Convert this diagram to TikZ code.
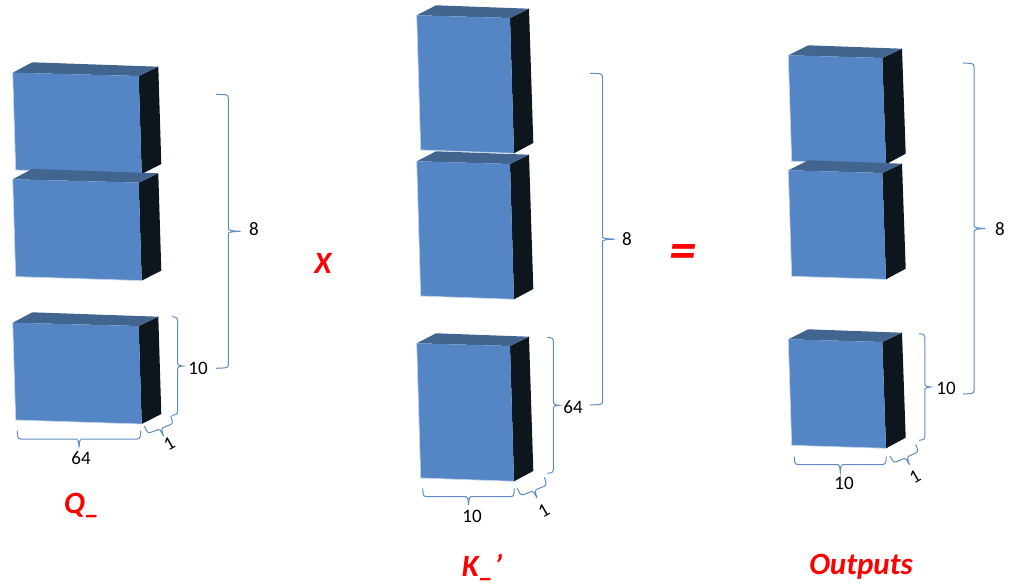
\documentclass[tikz,border=0pt]{standalone}
\usepackage{fontspec}
\setmainfont{Carlito}
\usetikzlibrary{decorations}
\definecolor{frontblue}{HTML}{5485C5}
\definecolor{topblue}{HTML}{41658F}
\definecolor{sideblack}{HTML}{0D151D}
\definecolor{braceblue}{HTML}{5F8CC4}
\definecolor{edgelight}{HTML}{C3D4EA}
% brace with tight corners and a short tip
\pgfdeclaredecoration{tightbrace}{start}{
    \state{start}[width=+\pgfdecoratedremainingdistance, next state=final]{
        \pgfmathsetlengthmacro{\halfdepth}{0.5*\pgfdecorationsegmentamplitude}
        \pgfmathsetlengthmacro{\fulldepth}{\pgfdecorationsegmentamplitude}
        \pgfmathsetlengthmacro{\midway}{0.5*\pgfdecoratedremainingdistance}
        \pgfmathsetlengthmacro{\fullway}{\pgfdecoratedremainingdistance}
        \pgfpathmoveto{\pgfpointorigin}
        \pgfpathlineto{\pgfpoint{0.4pt}{\halfdepth-3pt}}
        \pgfpathcurveto{\pgfpoint{0.8pt}{\halfdepth-1pt}}{\pgfpoint{1.5pt}{\halfdepth}}{\pgfpoint{3.5pt}{\halfdepth}}
        \pgfpathlineto{\pgfpoint{\midway-2.5pt}{\halfdepth}}
        \pgfpathcurveto{\pgfpoint{\midway-1pt}{\halfdepth}}{\pgfpoint{\midway-0.5pt}{\halfdepth+1.5pt}}{\pgfpoint{\midway}{\fulldepth}}
        \pgfpathcurveto{\pgfpoint{\midway+0.5pt}{\halfdepth+1.5pt}}{\pgfpoint{\midway+1pt}{\halfdepth}}{\pgfpoint{\midway+2.5pt}{\halfdepth}}
        \pgfpathlineto{\pgfpoint{\fullway-3.5pt}{\halfdepth}}
        \pgfpathcurveto{\pgfpoint{\fullway-1.5pt}{\halfdepth}}{\pgfpoint{\fullway-0.8pt}{\halfdepth-1pt}}{\pgfpoint{\fullway-0.4pt}{\halfdepth-3pt}}
        \pgfpathlineto{\pgfpoint{\fullway}{0pt}}
    }
    \state{final}{}
}
\tikzset{
    frontface/.style={fill=frontblue},
    topface/.style={fill=topblue},
    sideface/.style={fill=sideblack},
    sheen/.style={draw=edgelight, line width=0.7pt},
    brc/.style={draw=braceblue, line width=1pt, decorate, decoration={tightbrace, amplitude=#1}},
    sizelabel/.style={text=black, font=\fontsize{19}{21}\selectfont, inner sep=0pt},
    blocklabel/.style={text=red, font=\fontsize{31}{33}\selectfont\bfseries\itshape, inner sep=0pt},
    pics/wideblock/.style={code={
        \fill[sideface] (126,3.3) -- (145.6,-6) -- (148.6,91.3) -- (129,101.3) -- cycle;
        \fill[topface] (0,0) -- (19.6,-10.4) -- (145.6,-6) -- (126,3.3) -- cycle;
        \fill[frontface] (0,0) -- (126,3.3) -- (129,101.3) -- (3,97.3) -- cycle;
        \draw[sheen] (0,0) -- (3,97.3) -- (129,101.3);
    }},
    pics/tallblock/.style={code={
        \fill[sideface] (93.3,2.7) -- (112.3,-6.6) -- (116.6,127.7) -- (97.3,138) -- cycle;
        \fill[topface] (0,0) -- (19.3,-10) -- (112.3,-6.6) -- (93.3,2.7) -- cycle;
        \fill[frontface] (0,0) -- (93.3,2.7) -- (97.3,138) -- (4,134.7) -- cycle;
        \draw[sheen] (0,0) -- (4,134.7) -- (97.3,138);
    }},
    pics/squareblock/.style={code={
        \fill[sideface] (94,2.7) -- (113.7,-6.6) -- (117.4,98.4) -- (97.7,109) -- cycle;
        \fill[topface] (0,0) -- (20,-10) -- (113.7,-6.6) -- (94,2.7) -- cycle;
        \fill[frontface] (0,0) -- (94,2.7) -- (97.7,109) -- (3.4,106) -- cycle;
        \draw[sheen] (0,0) -- (3.4,106) -- (97.7,109);
    }},
}
\begin{document}
\begin{tikzpicture}[x=1pt, y=-1pt]
    \useasboundingbox (0,0) rectangle (1024,588);

    % Q_ blocks
    \pic at (12.7,72.7) {wideblock};
    \pic at (12.7,179.3) {wideblock};
    \pic at (12.7,322.7) {wideblock};
    % K_' blocks
    \pic at (416.7,15.3) {tallblock};
    \pic at (416.7,161.3) {tallblock};
    \pic at (416.7,343.3) {tallblock};
    % Outputs blocks
    \pic at (788.3,55.3) {squareblock};
    \pic at (788.3,170.3) {squareblock};
    \pic at (788.3,339.3) {squareblock};

    % Brace ends
    \coordinate (q8a) at (216,94.3);
    \coordinate (q8b) at (216,368.3);
    \coordinate (q10a) at (172,316.7);
    \coordinate (q10b) at (172,415.3);
    \coordinate (q64a) at (140.7,430.7);
    \coordinate (q64b) at (17.3,430.7);
    \coordinate (q1a) at (170.7,415.7);
    \coordinate (q1b) at (144.3,426);
    \coordinate (k8a) at (590,73.3);
    \coordinate (k8b) at (590,405);
    \coordinate (k64a) at (547.3,337.3);
    \coordinate (k64b) at (547.3,473.3);
    \coordinate (k10a) at (514.3,488.3);
    \coordinate (k10b) at (422.7,488.3);
    \coordinate (k1a) at (544.3,477.3);
    \coordinate (k1b) at (517.3,488.3);
    \coordinate (o8a) at (963,63);
    \coordinate (o8b) at (963,394);
    \coordinate (o10a) at (919,333.7);
    \coordinate (o10b) at (919,440.3);
    \coordinate (o10c) at (886.3,456.7);
    \coordinate (o10d) at (794.3,456.7);
    \coordinate (o1a) at (915.7,444.3);
    \coordinate (o1b) at (890,456);

    % Braces
    \draw[brc=24.7pt] (q8a) -- (q8b);
    \draw[brc=11pt] (q10a) -- (q10b);
    \draw[brc=16.6pt] (q64a) -- (q64b);
    \draw[brc=16.6pt] (q1a) -- (q1b);
    \draw[brc=25pt] (k8a) -- (k8b);
    \draw[brc=12pt] (k64a) -- (k64b);
    \draw[brc=16.7pt] (k10a) -- (k10b);
    \draw[brc=16.6pt] (k1a) -- (k1b);
    \draw[brc=22pt] (o8a) -- (o8b);
    \draw[brc=11.7pt] (o10a) -- (o10b);
    \draw[brc=15.6pt] (o10c) -- (o10d);
    \draw[brc=16pt] (o1a) -- (o1b);

    % Sizes
    \node[sizelabel] (q8) at (254,229) {8};
    \node[sizelabel] (q10) at (198,368) {10};
    \node[sizelabel] (q64) at (81,458) {64};
    \node[sizelabel, rotate=30] (q1) at (169.3,444) {1};
    \node[sizelabel] (k8) at (627,239) {8};
    \node[sizelabel] (k64) at (573,407) {64};
    \node[sizelabel] (k10) at (472,516) {10};
    \node[sizelabel, rotate=30] (k1) at (543.7,510.7) {1};
    \node[sizelabel] (o8) at (1000,229) {8};
    \node[sizelabel] (o10) at (946,388) {10};
    \node[sizelabel] (o10w) at (844,483) {10};
    \node[sizelabel, rotate=30] (o1) at (915,477) {1};

    % Names
    \node[blocklabel] (qname) at (82,505) {Q\_};
    \node[blocklabel] (kname) at (482,567) {K\_'};
    \node[blocklabel] (oname) at (861,567) {Outputs};
    \node[blocklabel] (times) at (323,263) {X};
    \node[blocklabel, font=\fontsize{54}{56}\selectfont\bfseries\itshape] (equals) at (683,257) {=};
\end{tikzpicture}
\end{document}
